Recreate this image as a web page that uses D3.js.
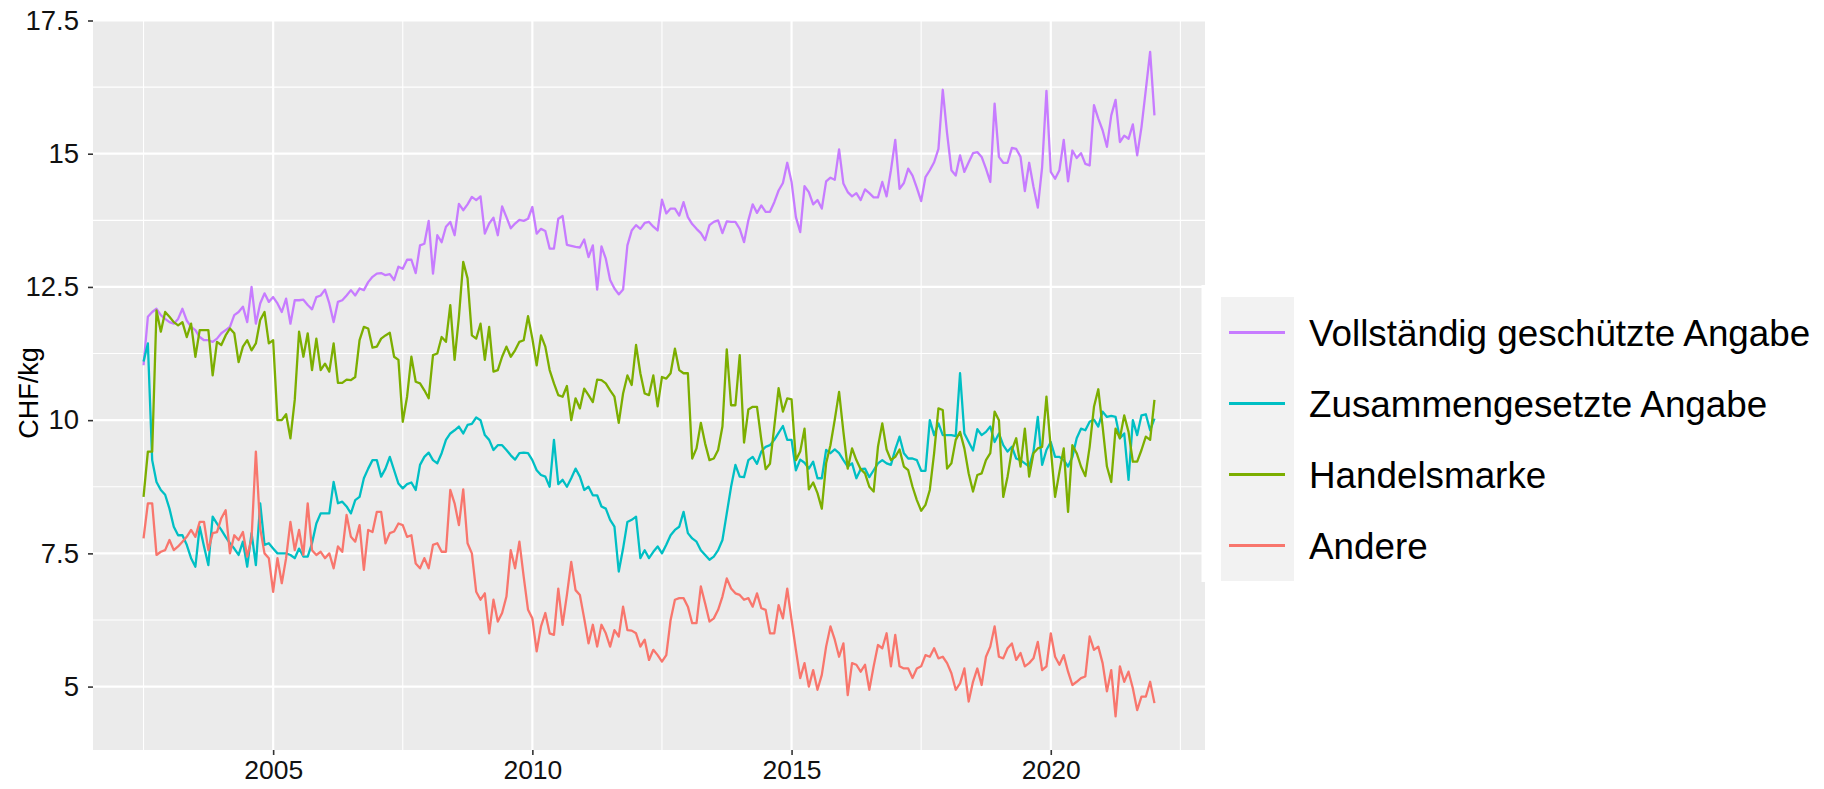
<!DOCTYPE html>
<html><head><meta charset="utf-8">
<script src="https://cdn.jsdelivr.net/npm/d3@7"></script>
<style>
html,body{margin:0;padding:0;background:#fff;}
svg{display:block;font-family:"Liberation Sans",Arial,Helvetica,sans-serif;}
</style>
</head><body>
<svg id="chart" width="1824" height="789"></svg>
<script>
// ---- data (monthly, July 2002 .. January 2022) ----
const startYear = 2002, startMonth = 7;
const seriesNames = ["Vollständig geschützte Angabe", "Zusammengesetzte Angabe", "Handelsmarke", "Andere"];
const seriesColors = ["#C77CFF", "#00BFC4", "#7CAE00", "#F8766D"];
const yTickValues = [5, 7.5, 10, 12.5, 15, 17.5];
const yMinorValues = [6.25, 8.75, 11.25, 13.75, 16.25];
const xTickValues = [2005, 2010, 2015, 2020];
const xMinorValues = [2002.5, 2007.5, 2012.5, 2017.5, 2022.5];
const yTitle = "CHF/kg";

const vollstaendig = [11.03,11.94,12.03,12.09,11.97,11.9,11.84,11.81,11.9,12.09,11.87,11.75,11.69,11.56,11.5,11.5,11.47,11.53,11.63,11.69,11.75,11.97,12.03,12.13,11.84,12.5,11.81,12.19,12.38,12.22,12.31,12.19,12.03,12.28,11.81,12.25,12.25,12.26,12.16,12.08,12.31,12.34,12.45,12.19,11.84,12.22,12.25,12.34,12.44,12.34,12.47,12.44,12.59,12.69,12.75,12.76,12.72,12.74,12.63,12.88,
12.84,13.01,13.01,12.76,13.28,13.31,13.74,12.75,13.47,13.34,13.63,13.72,13.47,14.06,13.94,14.05,14.19,14.13,14.2,13.5,13.69,13.8,13.47,14.01,13.81,13.6,13.69,13.76,13.74,13.78,14.0,13.5,13.59,13.55,13.22,13.22,13.78,13.83,13.29,13.27,13.25,13.24,13.39,13.06,13.28,12.45,13.26,13.03,12.63,12.47,12.36,12.45,13.28,13.56,13.66,13.59,13.7,13.72,13.63,13.56,14.14,13.88,13.97,13.97,13.84,14.09,13.81,13.68,13.59,
13.51,13.38,13.66,13.72,13.75,13.51,13.73,13.72,13.72,13.59,13.34,13.75,14.05,13.89,14.03,13.91,13.91,14.09,14.31,14.45,14.83,14.47,13.81,13.53,14.39,14.28,14.05,14.13,13.97,14.48,14.55,14.51,15.08,14.44,14.28,14.2,14.26,14.13,14.33,14.26,14.18,14.18,14.47,14.2,14.69,15.26,14.34,14.45,14.72,14.59,14.36,14.11,14.56,14.69,14.84,15.09,16.2,15.38,14.69,14.59,14.97,14.66,14.84,15.01,15.03,14.94,14.72,14.47,15.94,
14.94,14.83,14.83,15.11,15.09,14.94,14.3,14.83,14.38,13.99,14.75,16.18,14.66,14.53,14.69,15.26,14.48,15.06,14.92,15.01,14.81,14.78,15.91,15.66,15.44,15.13,15.72,16.01,15.22,15.34,15.28,15.55,14.97,15.5,16.2,16.91,15.72];

const zusammengesetzt = [11.1,11.44,9.25,8.84,8.69,8.6,8.34,8.0,7.84,7.84,7.66,7.41,7.25,8.0,7.63,7.28,8.19,8.06,7.94,7.81,7.69,7.59,7.47,7.72,7.25,7.88,7.28,8.44,7.66,7.69,7.59,7.5,7.5,7.5,7.47,7.41,7.59,7.44,7.44,7.69,8.06,8.25,8.25,8.25,8.84,8.44,8.47,8.38,8.25,8.5,8.56,8.91,9.09,9.25,9.25,
8.94,9.09,9.31,9.06,8.81,8.72,8.8,8.83,8.69,9.16,9.31,9.39,9.25,9.19,9.38,9.63,9.75,9.81,9.88,9.75,9.91,9.93,10.05,10.0,9.72,9.63,9.44,9.53,9.53,9.44,9.34,9.26,9.38,9.39,9.38,9.25,9.06,8.97,8.94,8.75,9.63,8.8,8.88,8.75,8.91,9.09,8.94,8.69,8.75,8.59,8.59,8.38,8.34,8.13,8.0,7.16,7.59,8.09,8.13,8.19,7.41,7.56,7.41,7.53,7.63,7.5,7.66,7.84,7.94,8.0,8.28,7.88,7.78,7.72,
7.56,7.47,7.38,7.44,7.56,7.75,8.25,8.75,9.16,8.94,8.93,9.25,9.31,9.18,9.41,9.5,9.53,9.63,9.76,9.89,9.63,9.63,9.06,9.26,9.2,9.09,9.22,8.91,8.91,9.44,9.38,9.45,9.38,9.25,9.13,9.19,8.91,9.08,9.09,8.93,9.06,9.19,9.25,9.19,9.16,9.45,9.69,9.38,9.28,9.28,9.25,9.05,9.05,10.0,9.72,9.94,9.72,9.72,9.72,9.7,10.88,
9.75,9.59,9.43,9.83,9.72,9.78,9.88,9.59,9.75,9.53,9.41,9.5,9.28,9.25,9.19,9.13,9.41,10.06,9.16,9.44,9.59,9.31,9.31,9.25,9.13,9.31,9.66,9.84,9.81,9.97,10.01,9.88,10.16,10.06,10.08,10.06,9.66,9.75,8.88,10.0,9.72,10.09,10.11,9.81,10.03];

const handelsmarke = [8.56,9.41,9.41,12.06,11.66,12.03,11.94,11.84,11.78,11.84,11.56,11.81,11.19,11.69,11.69,11.69,10.84,11.47,11.41,11.59,11.72,11.63,11.09,11.38,11.5,11.31,11.44,11.88,12.03,11.44,11.5,10.0,10.0,10.11,9.66,10.38,11.66,11.19,11.63,10.94,11.53,10.94,11.06,10.91,11.44,10.7,10.7,10.76,10.75,10.81,11.5,11.75,11.72,11.36,11.38,
11.53,11.59,11.64,11.19,11.13,9.97,10.44,11.19,10.72,10.69,10.56,10.41,11.22,11.25,11.56,11.47,12.16,11.13,11.94,12.97,12.66,11.59,11.53,11.81,11.13,11.75,10.91,10.94,11.19,11.38,11.19,11.31,11.47,11.5,11.95,11.53,11.03,11.59,11.38,10.94,10.69,10.47,10.44,10.64,10.0,10.41,10.22,10.59,10.47,10.34,10.76,10.75,10.69,10.56,10.44,9.95,10.5,10.84,10.66,11.41,10.88,10.5,10.47,10.84,10.26,10.81,10.78,10.88,11.34,10.94,10.88,10.88,9.28,9.47,
9.95,9.56,9.25,9.28,9.44,9.88,11.33,10.28,10.28,11.22,9.58,10.2,10.25,10.25,9.63,9.08,9.18,9.88,10.6,10.16,10.41,10.39,9.25,9.41,9.84,8.7,8.83,8.63,8.34,9.19,9.53,10.01,10.53,9.78,9.09,9.47,9.25,9.08,9.0,8.75,8.66,9.5,9.94,9.45,9.25,9.31,9.45,9.13,9.06,8.75,8.5,8.3,8.41,8.69,9.38,10.22,10.19,9.09,9.19,9.63,9.78,9.47,9.0,8.66,8.97,9.0,9.25,9.38,10.16,10.0,
8.56,8.94,9.44,9.66,9.13,9.84,8.94,9.38,9.47,9.5,10.44,9.47,8.56,9.03,9.47,8.28,9.53,9.38,9.13,8.95,9.5,10.25,10.58,9.88,9.13,8.84,9.84,9.66,10.09,9.78,9.22,9.22,9.44,9.69,9.63,10.38];

const andere = [7.78,8.44,8.44,7.47,7.53,7.56,7.75,7.56,7.63,7.72,7.81,7.94,7.81,8.09,8.09,7.56,7.88,7.9,8.16,8.31,7.5,7.84,7.75,7.9,7.44,7.78,9.41,7.97,7.5,7.41,6.78,7.41,6.94,7.41,8.09,7.56,7.94,7.47,8.44,7.56,7.47,7.53,7.41,7.5,7.22,7.63,7.53,8.22,7.81,7.72,8.03,7.19,7.94,7.9,8.28,
8.28,7.69,7.88,7.91,8.06,8.03,7.81,7.84,7.31,7.22,7.41,7.22,7.66,7.69,7.53,7.53,8.69,8.44,8.03,8.7,7.69,7.5,6.78,6.63,6.75,6.0,6.63,6.22,6.38,6.69,7.56,7.22,7.72,7.06,6.44,6.28,5.66,6.13,6.38,6.0,5.97,6.84,6.16,6.72,7.34,6.81,6.72,6.28,5.81,6.16,5.75,6.16,6.0,5.75,6.06,5.94,6.5,6.06,6.05,6.0,5.75,5.88,5.5,5.69,5.59,5.47,5.59,6.25,6.63,6.66,6.66,6.5,6.19,6.19,
6.88,6.56,6.22,6.28,6.44,6.69,7.03,6.84,6.75,6.72,6.63,6.66,6.5,6.75,6.47,6.44,6.0,6.0,6.53,6.28,6.84,6.25,5.69,5.16,5.44,5.0,5.31,4.94,5.22,5.75,6.13,5.88,5.56,5.81,4.84,5.44,5.41,5.28,5.41,4.94,5.38,5.78,5.72,6.0,5.38,5.97,5.38,5.34,5.34,5.16,5.34,5.38,5.59,5.56,5.72,5.53,5.56,5.44,5.25,4.94,
5.06,5.34,4.72,5.09,5.34,5.03,5.56,5.75,6.13,5.56,5.53,5.72,5.81,5.5,5.63,5.38,5.44,5.53,5.84,5.31,5.38,6.0,5.56,5.41,5.59,5.28,5.03,5.09,5.16,5.19,5.94,5.69,5.75,5.44,4.91,5.31,4.44,5.38,5.09,5.28,4.97,4.56,4.81,4.81,5.09,4.69];

const seriesValues = [vollstaendig, zusammengesetzt, handelsmarke, andere];

// ---- layout ----
const W = 1824, H = 789;
const panel = {left: 93, right: 1205, top: 20, bottom: 750};
const svg = d3.select("#chart");

const monthTime = i => startYear + (startMonth - 1 + i) / 12;
const nPts = vollstaendig.length;
const tMin = monthTime(0), tMax = monthTime(nPts - 1);
const tPad = (tMax - tMin) * 0.05;
const x = d3.scaleLinear().domain([tMin - tPad, tMax + tPad]).range([panel.left, panel.right]);
const y = d3.scaleLinear().domain([3.81, 17.5]).range([panel.bottom, panel.top + 0.5]);

// panel background
svg.append("rect").attr("x", panel.left).attr("y", panel.top)
  .attr("width", panel.right - panel.left).attr("height", panel.bottom - panel.top)
  .attr("fill", "#EBEBEB");

const grid = svg.append("g");
grid.selectAll(".ymin").data(yMinorValues).join("line")
  .attr("x1", panel.left).attr("x2", panel.right)
  .attr("y1", d => y(d)).attr("y2", d => y(d))
  .attr("stroke", "#fff").attr("stroke-width", 1.1);
grid.selectAll(".xmin").data(xMinorValues.filter(v => x(v) < panel.right)).join("line")
  .attr("y1", panel.top).attr("y2", panel.bottom)
  .attr("x1", d => x(d)).attr("x2", d => x(d))
  .attr("stroke", "#fff").attr("stroke-width", 1.1);
grid.selectAll(".ymaj").data(yTickValues).join("line")
  .attr("x1", panel.left).attr("x2", panel.right)
  .attr("y1", d => y(d)).attr("y2", d => y(d))
  .attr("stroke", "#fff").attr("stroke-width", 2.2);
grid.selectAll(".xmaj").data(xTickValues).join("line")
  .attr("y1", panel.top).attr("y2", panel.bottom)
  .attr("x1", d => x(d)).attr("x2", d => x(d))
  .attr("stroke", "#fff").attr("stroke-width", 2.2);

// lines
const line = d3.line().x((d, i) => x(monthTime(i))).y(d => y(d));
seriesValues.forEach((vals, k) => {
  svg.append("path").datum(vals)
    .attr("d", line)
    .attr("fill", "none")
    .attr("stroke", seriesColors[k])
    .attr("stroke-width", 2.3)
    .attr("stroke-linejoin", "round");
});

// axes
const yAxis = d3.axisLeft(y).tickValues(yTickValues).tickSize(5).tickPadding(9).tickFormat(d3.format("~g"));
const gy = svg.append("g").attr("transform", `translate(${panel.left},0)`).call(yAxis);
gy.select(".domain").remove();
gy.selectAll(".tick line").attr("stroke", "#333").attr("stroke-width", 1.6);
gy.selectAll(".tick text").attr("font-size", 27.5).attr("fill", "#111")
  .attr("font-family", "Liberation Sans, Arial, sans-serif");

const xAxis = d3.axisBottom(x).tickValues(xTickValues).tickSize(5).tickPadding(5).tickFormat(d3.format("d"));
const gx = svg.append("g").attr("transform", `translate(0,${panel.bottom})`).call(xAxis);
gx.select(".domain").remove();
gx.selectAll(".tick line").attr("stroke", "#333").attr("stroke-width", 1.6);
gx.selectAll(".tick text").attr("font-size", 26.5).attr("fill", "#111")
  .attr("font-family", "Liberation Sans, Arial, sans-serif");

// y title
svg.append("text")
  .attr("transform", `translate(38,${(panel.top + panel.bottom) / 2 + 8}) rotate(-90)`)
  .attr("text-anchor", "middle")
  .attr("font-size", 27).attr("fill", "#000")
  .text(yTitle);

// legend
const lg = svg.append("g");
lg.append("rect").attr("x", 1201.5).attr("y", 285).attr("width", W - 1201.5).attr("height", 297).attr("fill", "#fff");
const keyTop = 297, keyH = 71;
lg.append("rect").attr("x", 1221).attr("y", keyTop).attr("width", 73).attr("height", keyH * 4).attr("fill", "#F2F2F2");
seriesNames.forEach((name, k) => {
  const cy = keyTop + keyH * k + keyH / 2;
  lg.append("line").attr("x1", 1229).attr("x2", 1285).attr("y1", cy).attr("y2", cy)
    .attr("stroke", seriesColors[k]).attr("stroke-width", 3.2);
  lg.append("text").attr("x", 1309).attr("y", cy).attr("dy", "0.36em")
    .attr("font-size", 36.8).attr("fill", "#000").text(name);
});
</script>
</body></html>
